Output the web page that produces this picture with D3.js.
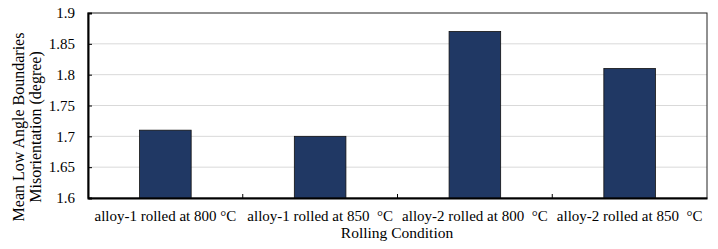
<!DOCTYPE html>
<html lang="en">
<head>
    <meta charset="UTF-8">
    <title>Mean LAB misorientation</title>
    <script src="https://cdn.jsdelivr.net/npm/d3@7"></script>
    <style>
        body { margin: 0; background: white; }
        svg text { font-family: 'Liberation Serif', 'Times New Roman', 'DejaVu Serif', serif !important; fill: black; white-space: pre; }
    </style>
</head>
<body>
    <svg id="chart" width="718" height="249"></svg>
    <script type="text/javascript">

        // values
        const conditions = ['alloy-1 rolled at 800 °C', 'alloy-1 rolled at 850  °C',
            'alloy-2 rolled at 800  °C', 'alloy-2 rolled at 850  °C']
        const misorientation = [1.71, 1.70, 1.87, 1.81]
        const yTicks = [1.6, 1.65, 1.7, 1.75, 1.8, 1.85, 1.9]

        const serif = "'Liberation Serif', 'Times New Roman', serif"
        const svg = d3.select('#chart')
        const m = { left: 88, top: 13, right: 11, bottom: 51 }
        const w = 718 - m.left - m.right
        const h = 249 - m.top - m.bottom

        const g = svg.append('g').attr('transform', `translate(${m.left},${m.top})`)

        const x = d3.scaleBand().domain(conditions).range([0, w]).paddingInner(0).paddingOuter(0)
        const y = d3.scaleLinear().domain([1.6, 1.9]).range([h, 0])

        // gridlines
        g.selectAll('.grid')
            .data(yTicks.slice(1, -1))
            .join('line')
            .attr('x1', 0).attr('x2', w)
            .attr('y1', d => y(d)).attr('y2', d => y(d))
            .attr('stroke', '#d9d9d9')

        // frame
        g.append('rect')
            .attr('width', w).attr('height', h)
            .attr('fill', 'none').attr('stroke', '#222').attr('stroke-width', 1)

        // bars
        const bw = x.bandwidth() / 3
        g.selectAll('.bar')
            .data(misorientation)
            .join('rect')
            .attr('x', (d, i) => x(conditions[i]) + bw)
            .attr('width', bw)
            .attr('y', d => y(d))
            .attr('height', d => h - y(d))
            .attr('fill', '#203864')
            .attr('stroke', '#111')
            .attr('stroke-width', 0.8)

        // y axis
        const yAxis = g.append('g')
            .call(d3.axisLeft(y).tickValues(yTicks).tickFormat(d => d3.format('')(+d.toFixed(2))).tickSize(-4).tickPadding(13))
        yAxis.attr('font-family', serif)
        yAxis.select('.domain').attr('stroke', 'black').attr('stroke-width', 2)
        yAxis.selectAll('.tick line').attr('stroke', 'black')
        yAxis.selectAll('text').style('font-size', '15px').style('font-family', serif)

        // x axis, ticks on category boundaries
        const xAxis = g.append('g').attr('transform', `translate(0,${h})`)
            .call(d3.axisBottom(x).tickSize(0).tickPadding(12))
        xAxis.attr('font-family', serif)
        xAxis.select('.domain').attr('stroke', 'black').attr('stroke-width', 2)
        xAxis.selectAll('text').style('font-size', '15px').style('font-family', serif)
        g.selectAll('.xtick')
            .data(conditions.slice(1))
            .join('line')
            .attr('x1', d => x(d)).attr('x2', d => x(d))
            .attr('y1', h).attr('y2', h - 4)
            .attr('stroke', 'black')

        // axis titles
        svg.append('text')
            .attr('x', 397).attr('y', 238)
            .attr('text-anchor', 'middle')
            .style('font-size', '15.5px').style('font-family', serif)
            .text('Rolling Condition')

        const yt = svg.append('text')
            .attr('transform', 'translate(0,127) rotate(-90)')
            .attr('text-anchor', 'middle')
            .style('font-size', '16px').style('font-family', serif)
        yt.append('tspan').attr('x', 0).attr('y', 24).text('Mean Low Angle Boundaries')
        yt.append('tspan').attr('x', 0).attr('y', 41).text('Misorientation (degree)')

    </script>
</body>
</html>
